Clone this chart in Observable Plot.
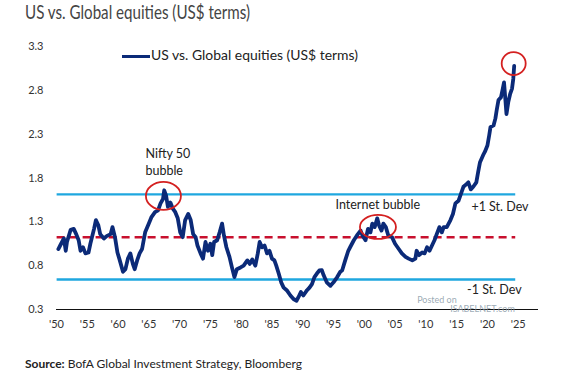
<!DOCTYPE html>
<html><head><meta charset="utf-8">
<script src="https://cdn.jsdelivr.net/npm/d3@7"></script>
<script src="https://cdn.jsdelivr.net/npm/@observablehq/plot@0.6"></script>
<style>
body{margin:0;background:#fff;font-family:Lato,"Open Sans",sans-serif;width:567px;height:374px;overflow:hidden;position:relative}
.fit{position:absolute;white-space:nowrap;transform-origin:0 50%}
#title{left:25px;top:0px;font-size:19px;line-height:24px;color:#444}
#chart{position:absolute;left:0;top:28px}
#legend{position:absolute;left:122px;top:48px;height:16px;display:flex;align-items:center}
#legend .sw{display:inline-block;width:28px;height:3px;background:#0b2a78}
#legtext{left:29px;top:0;font-size:12.5px;line-height:16px;color:#222}
#source{left:25px;top:356px;font-size:12px;line-height:16px;color:#222}
</style></head>
<body>
<div id="title" class="fit">US vs. Global equities (US$ terms)</div>
<div id="chart"></div>
<div id="legend"><span class="sw"></span><span id="legtext" class="fit">US vs. Global equities (US$ terms)</span></div>
<div id="source" class="fit"><b>Source:</b> BofA Global Investment Strategy, Bloomberg</div>
<script>
const years = [1950.3,1950.6,1951.2,1951.5,1951.7,1952.3,1952.8,1953.2,1953.6,1953.9,1954.3,1954.7,1955.2,1955.5,1956.1,1956.4,1956.8,1957.1,1957.7,1958.2,1958.8,1959.1,1959.5,1959.9,1960.2,1960.8,1961.2,1961.6,1962.0,1962.4,1962.7,1963.1,1963.5,1963.9,1964.4,1965.0,1965.4,1966.0,1966.5,1966.9,1967.3,1967.5,1967.8,1968.1,1968.5,1968.9,1969.3,1969.7,1970.1,1970.5,1970.9,1971.4,1971.8,1972.2,1972.6,1972.9,1973.4,1973.8,1974.2,1974.6,1975.0,1975.3,1975.6,1976.1,1976.5,1976.9,1977.2,1977.6,1978.1,1978.5,1978.9,1979.3,1979.9,1980.4,1981.0,1981.4,1981.8,1982.3,1982.7,1983.0,1983.4,1983.8,1984.2,1984.6,1985.0,1985.4,1985.7,1986.1,1986.5,1986.9,1987.4,1988.0,1988.5,1989.0,1989.3,1989.7,1990.1,1990.7,1991.1,1991.5,1991.9,1992.3,1992.7,1993.1,1993.4,1993.9,1994.5,1995.0,1995.6,1996.1,1996.4,1996.9,1997.4,1997.7,1998.3,1998.8,1999.4,1999.7,2000.2,2000.6,2001.0,2001.3,2001.7,2002.1,2002.4,2002.8,2003.1,2003.5,2003.9,2004.5,2005.0,2005.6,2006.1,2006.7,2007.2,2007.8,2008.3,2008.5,2008.9,2009.4,2009.8,2010.2,2010.6,2011.0,2011.4,2011.8,2012.2,2012.6,2012.9,2013.4,2014.0,2014.4,2014.8,2015.3,2015.7,2016.1,2016.6,2016.9,2017.3,2017.7,2018.2,2018.5,2018.8,2019.3,2019.6,2020.0,2020.3,2020.5,2021.0,2021.3,2021.5,2021.8,2022.2,2022.5,2022.7,2022.9,2023.1,2023.4,2023.7,2024.0,2024.2,2024.35];
const values = [0.99,1.03,1.11,0.97,1.07,1.21,1.22,1.16,1.09,0.97,1.01,0.94,0.95,1.05,1.22,1.32,1.26,1.16,1.11,1.14,1.16,1.24,1.125,0.95,0.88,0.73,0.76,0.88,0.94,0.82,0.76,0.86,0.94,0.99,1.18,1.28,1.35,1.41,1.43,1.51,1.56,1.66,1.60,1.47,1.52,1.45,1.41,1.34,1.18,1.125,1.32,1.39,1.32,1.16,1.125,1.03,0.94,0.88,1.07,0.97,1.05,0.92,1.07,1.09,1.18,1.28,1.145,1.01,0.90,0.78,0.67,0.76,0.78,0.80,0.86,0.82,0.87,0.80,0.94,1.07,1.01,1.03,0.94,0.97,0.88,0.86,0.80,0.71,0.61,0.55,0.52,0.46,0.42,0.40,0.44,0.50,0.46,0.52,0.55,0.59,0.67,0.71,0.745,0.75,0.69,0.61,0.57,0.61,0.67,0.73,0.745,0.86,0.97,1.01,1.09,1.145,1.20,1.145,1.09,1.22,1.18,1.28,1.24,1.34,1.26,1.20,1.28,1.24,1.145,1.125,1.05,0.99,0.94,0.90,0.88,0.86,0.88,0.97,0.92,0.95,0.94,1.01,0.97,1.03,1.09,1.165,1.24,1.18,1.24,1.24,1.32,1.39,1.51,1.54,1.62,1.70,1.73,1.75,1.67,1.70,1.75,1.87,1.98,2.06,2.10,2.17,2.29,2.38,2.40,2.48,2.57,2.69,2.72,2.82,2.89,2.71,2.53,2.67,2.76,2.82,2.93,3.08];
const yTicks = [0.3,0.8,1.3,1.8,2.3,2.8,3.3];
const xTicks = [1950,1955,1960,1965,1970,1975,1980,1985,1990,1995,2000,2005,2010,2015,2020,2025];
const meanLevel = 1.125;
const stDevLevels = [1.613, 0.642];
const bandSpan = [1950.1, 2024.6];
const circleNotes = [{x:1967.45,y:1.59,rx:17.5,ry:14},{x:2002.3,y:1.236,rx:18,ry:12},{x:2024.35,y:3.1,rx:12,ry:11.5}];
const startNotes = [
  {x:1964.45,y:1.99,text:"Nifty 50\nbubble"},
  {x:2017.4,y:1.487,text:"+1 St. Dev"},
  {x:2016.7,y:0.54,text:"-1 St. Dev"}
];
const middleNotes = [{x:2002.2,y:1.487,text:"Internet bubble"}];
const watermark = [{x:2011.8,y:0.41,text:"Posted on",size:9},{x:2019.2,y:0.30,text:"ISABELNET.com",size:9}];

const data = years.map((y,i)=>({year:y,value:values[i]}));
const FONT = "Lato, 'Open Sans', sans-serif";

const chart = Plot.plot({
  width:567, height:318,
  marginLeft:56, marginRight:29, marginTop:18, marginBottom:37,
  style:{fontFamily:FONT,fontSize:"11px",color:"#333",background:"transparent",overflow:"visible"},
  x:{domain:[1950,2028.3],ticks:xTicks,tickFormat:d=>"'"+String(d).slice(2),tickSize:0,tickPadding:11,label:null},
  y:{domain:[0.3,3.3],ticks:yTicks,tickFormat:d3.format(".1f"),tickSize:0,tickPadding:13,label:null},
  marks:[
    Plot.ruleY([0.3],{stroke:"#111",strokeWidth:1}),
    Plot.ruleY(stDevLevels,{y:d=>d,x1:bandSpan[0],x2:bandSpan[1],stroke:"#1fa7df",strokeWidth:2.4}),
    Plot.ruleY([meanLevel],{y:d=>d,x1:bandSpan[0],x2:bandSpan[1],stroke:"#c8102e",strokeWidth:2.5,strokeDasharray:"8,5"}),
    Plot.line(data,{x:"year",y:"value",stroke:"#0b2a78",strokeWidth:3.8,strokeLinejoin:"round",strokeLinecap:"round"}),
    Plot.text(watermark,{x:"x",y:"y",text:"text",fontSize:"size",fill:"#8a9aa8",fillOpacity:0.85,textAnchor:"middle"}),
    Plot.dot(circleNotes,{x:"x",y:"y",r:1,render:(index,scales,values,dims,ctx)=>{
      const g = d3.create("svg:g");
      for (const i of index){
        const d = circleNotes[i];
        g.append("ellipse").attr("cx",scales.x(d.x)).attr("cy",scales.y(d.y)).attr("rx",d.rx).attr("ry",d.ry)
          .attr("fill","none").attr("stroke","#d42020").attr("stroke-width",1.8);
      }
      return g.node();
    }}),
    Plot.text(startNotes,{x:"x",y:"y",text:"text",textAnchor:"start",lineAnchor:"middle",lineHeight:1.35,fontSize:12.5,fill:"#222"}),
    Plot.text(middleNotes,{x:"x",y:"y",text:"text",textAnchor:"middle",lineAnchor:"middle",fontSize:12.5,fill:"#222"})
  ]
});
document.getElementById("chart").appendChild(chart);

function fit(id,w){const el=document.getElementById(id);const cw=el.getBoundingClientRect().width;el.style.transform=`scaleX(${w/cw})`;}
fit("title",225); fit("legtext",207); fit("source",277);
</script>
</body></html>
